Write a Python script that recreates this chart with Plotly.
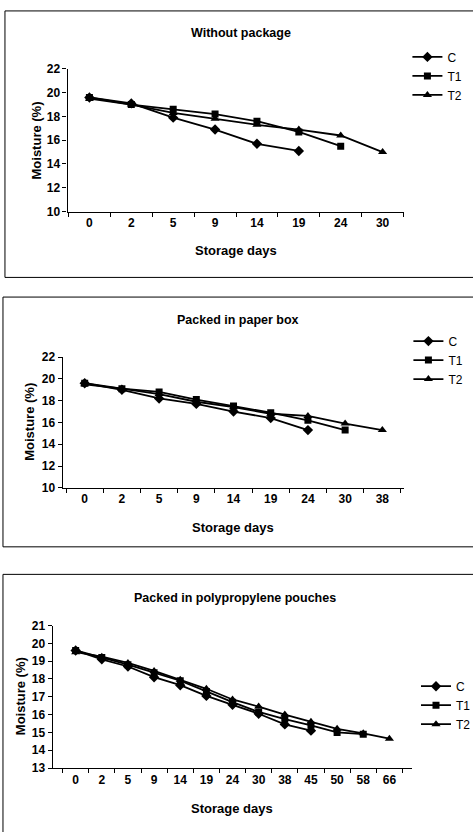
import plotly.graph_objects as go

# ---- data ----
days1 = ["0", "2", "5", "9", "14", "19", "24", "30"]
c1 = [19.6, 19.1, 17.9, 16.9, 15.7, 15.1]
t1_1 = [19.6, 19.0, 18.6, 18.2, 17.6, 16.7, 15.5]
t2_1 = [19.5, 19.0, 18.3, 17.8, 17.3, 16.9, 16.4, 15.0]

days2 = ["0", "2", "5", "9", "14", "19", "24", "30", "38"]
c2 = [19.6, 19.0, 18.2, 17.7, 17.0, 16.4, 15.3]
t1_2 = [19.6, 19.1, 18.8, 18.1, 17.5, 16.9, 16.2, 15.3]
t2_2 = [19.5, 19.1, 18.6, 17.9, 17.4, 16.8, 16.6, 15.9, 15.3]

days3 = ["0", "2", "5", "9", "14", "19", "24", "30", "38", "45", "50", "58", "66"]
c3 = [19.6, 19.1, 18.7, 18.1, 17.65, 17.05, 16.55, 16.05, 15.45, 15.1]
t1_3 = [19.6, 19.2, 18.8, 18.35, 17.9, 17.3, 16.7, 16.15, 15.75, 15.4, 15.0, 14.9]
t2_3 = [19.5, 19.25, 18.9, 18.45, 17.95, 17.45, 16.85, 16.45, 16.0, 15.6, 15.2, 14.95, 14.65]

titles = ["Without package", "Packed in paper box", "Packed in polypropylene pouches"]
series_names = ["C", "T1", "T2"]

W, H = 476, 839
FONT = "Liberation Sans, Arial, sans-serif"

def px(x):
    return x / W

def py(y):
    return 1 - y / H

fig = go.Figure()

panels = [
    dict(days=days1, data=[c1, t1_1, t2_1], yr=[10, 22], dt=2,
         plot=(68, 407, 63, 208), frame=(5, 476, 4, 275, True),
         title=(243, 26), ytitle=(37, 136), xtitle=(237, 248), legend=(410, 36)),
    dict(days=days2, data=[c2, t1_2, t2_2], yr=[10, 22], dt=2,
         plot=(63, 407, 356, 489), frame=(3, 476, 295, 549, True),
         title=(240, 318), ytitle=(30, 422), xtitle=(234, 529), legend=(411, 325)),
    dict(days=days3, data=[c3, t1_3, t2_3], yr=[13, 21], dt=1,
         plot=(53, 415, 629, 774), frame=(3, 476, 577, 839, False),
         title=(236, 601), ytitle=(20, 701), xtitle=(233, 815), legend=(419, 676)),
]

symbols = ["diamond", "square", "triangle-up"]
msizes = [8, 7, 8]

for i, p in enumerate(panels):
    n = i + 1
    xa = "x" if n == 1 else f"x{n}"
    ya = "y" if n == 1 else f"y{n}"
    lg = "legend" if n == 1 else f"legend{n}"
    for k, (name, vals) in enumerate(zip(series_names, p["data"])):
        fig.add_trace(go.Scatter(
            x=p["days"][:len(vals)], y=vals, name=name,
            mode="lines+markers", xaxis=xa, yaxis=ya, legend=lg,
            line=dict(color="black", width=1.8),
            marker=dict(symbol=symbols[k], size=msizes[k], color="black"),
        ))
    x0, x1, y0, y1 = p["plot"]
    axkey = "" if n == 1 else str(n)
    fig.layout["xaxis" + axkey] = dict(
        domain=[px(x0), px(x1)], anchor=ya, type="category",
        categoryorder="array", categoryarray=p["days"],
        tickson="boundaries", ticks="outside", ticklen=4, tickcolor="black",
        showline=True, linecolor="black", linewidth=1.2, showgrid=False,
        zeroline=False, tickfont=dict(family=FONT, size=12, color="black", weight="bold"),
        fixedrange=True,
    )
    fig.layout["yaxis" + axkey] = dict(
        domain=[py(y1), py(y0)], anchor=xa, range=p["yr"], dtick=p["dt"],
        ticks="outside", ticklen=4, tickcolor="black",
        showline=True, linecolor="black", linewidth=1.2, showgrid=False,
        zeroline=False, tickfont=dict(family=FONT, size=12, color="black", weight="bold"),
        fixedrange=True,
    )
    fig.layout[lg] = dict(
        x=px(p["legend"][0]), y=py(p["legend"][1]), xanchor="left", yanchor="top",
        bgcolor="rgba(0,0,0,0)", font=dict(family=FONT, size=12, color="black"),
        tracegroupgap=0, itemwidth=30,
    )
    fx0, fx1, fy0, fy1, has_bottom = p["frame"]
    fl = dict(color="black", width=1)
    fig.add_shape(type="line", xref="paper", yref="paper",
                  x0=px(fx0), x1=px(fx0), y0=py(fy0), y1=py(fy1), line=fl)
    fig.add_shape(type="line", xref="paper", yref="paper",
                  x0=px(fx0), x1=px(fx1), y0=py(fy0), y1=py(fy0), line=fl)
    if has_bottom:
        fig.add_shape(type="line", xref="paper", yref="paper",
                      x0=px(fx0), x1=px(fx1), y0=py(fy1), y1=py(fy1), line=fl)
    fig.add_annotation(text=titles[i], x=px(p["title"][0]), y=py(p["title"][1]),
                       xref="paper", yref="paper", showarrow=False,
                       xanchor="center", yanchor="middle",
                       font=dict(family=FONT, size=12.5, color="black", weight="bold"))
    fig.add_annotation(text="Moisture (%)", x=px(p["ytitle"][0]), y=py(p["ytitle"][1]),
                       xref="paper", yref="paper", showarrow=False, textangle=-90,
                       xanchor="center", yanchor="middle",
                       font=dict(family=FONT, size=13, color="black", weight="bold"))
    fig.add_annotation(text="Storage days", x=px(p["xtitle"][0]), y=py(p["xtitle"][1]),
                       xref="paper", yref="paper", showarrow=False,
                       xanchor="center", yanchor="middle",
                       font=dict(family=FONT, size=13, color="black", weight="bold"))

fig.update_layout(
    width=W, height=H, margin=dict(l=0, r=0, t=0, b=0),
    paper_bgcolor="white", plot_bgcolor="white", showlegend=True,
    font=dict(family=FONT, color="black"),
)

fig.write_html("out.html")
